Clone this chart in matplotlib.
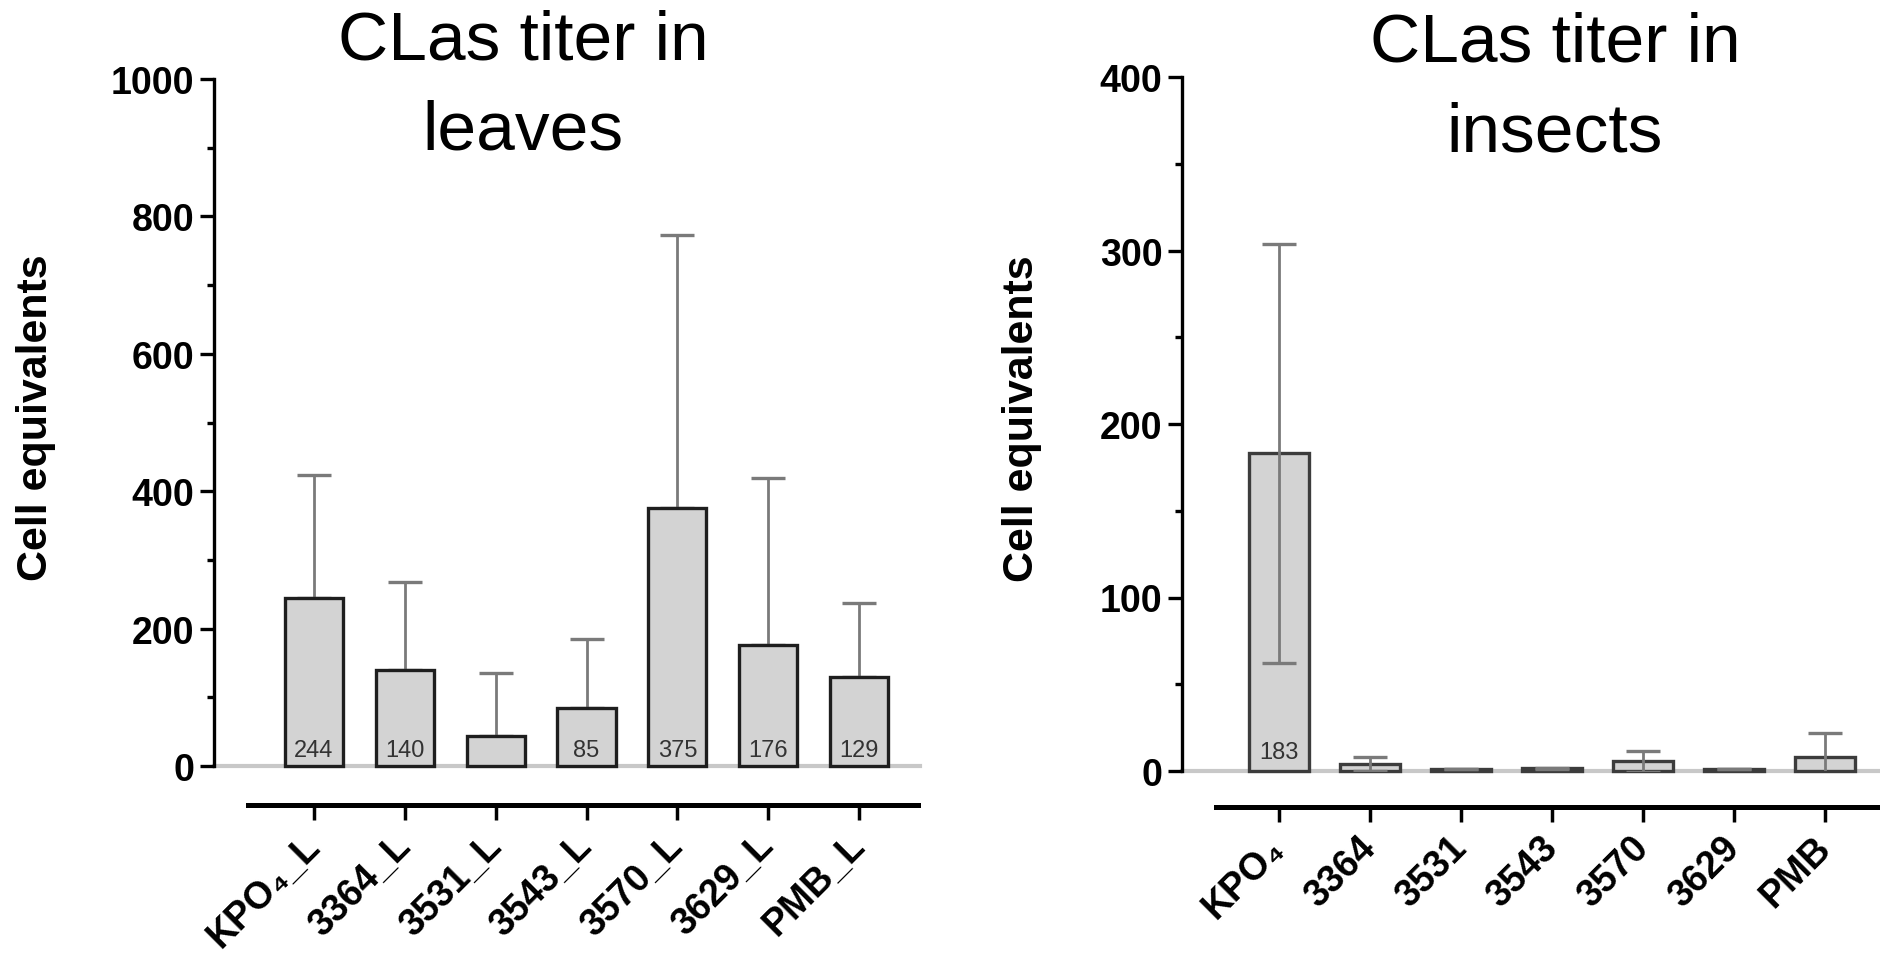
import matplotlib.pyplot as plt
import numpy as np

plt.rcParams['font.family'] = ['Liberation Sans', 'DejaVu Sans']

# CLas titer in leaves
leaves_labels = ['KPO₄_L', '3364_L', '3531_L', '3543_L', '3570_L', '3629_L', 'PMB_L']
leaves_mean = [244, 140, 43, 85, 375, 176, 129]
leaves_sd = [179, 128, 92, 100, 398, 243, 108]
leaves_text = ['244', '140', '', '85', '375', '176', '129']

# CLas titer in insects
insects_labels = ['KPO₄', '3364', '3531', '3543', '3570', '3629', 'PMB']
insects_mean = [183, 4, 1, 1.5, 5.5, 1, 8]
insects_sd = [121, 4, 0, 0.5, 6, 0, 14]
insects_text = ['183', '', '', '', '', '', '']

W, H = 1881, 962
fig = plt.figure(figsize=(W / 100, H / 100), dpi=100)


def panel(rect, labels, mean, sd, text, ymax, major, xlim, spine_lo, spine_hi,
          spine_out, barw, both_sides, edge, text_off):
    ax = fig.add_axes(rect)
    x = np.arange(len(labels))
    ax.axhline(0, color='#c8c8c8', lw=3, zorder=1, clip_on=False)
    ax.bar(x, mean, barw, color='#d3d3d3', edgecolor=edge, linewidth=2.4,
           zorder=3, clip_on=False)
    lower = sd if both_sides else [0] * len(sd)
    ax.errorbar(x, mean, yerr=[lower, sd], fmt='none', ecolor='#7a7a7a',
                elinewidth=2, capsize=12, capthick=2.4,
                zorder=4 if both_sides else 2)
    for xi, t in zip(x, text):
        if t:
            ax.annotate(t, (xi, 0), xytext=(0, text_off), textcoords='offset points',
                        ha='center', va='baseline', fontsize=17, color='#333333',
                        zorder=5)
    ax.set_xlim(*xlim)
    ax.set_ylim(0, ymax)
    ax.spines['top'].set_visible(False)
    ax.spines['right'].set_visible(False)
    ax.spines['left'].set_linewidth(2.4)
    ax.spines['bottom'].set_linewidth(3.6)
    ax.spines['bottom'].set_position(('outward', spine_out))
    ax.spines['bottom'].set_bounds(spine_lo, spine_hi)
    yt = np.arange(0, ymax + 1, major)
    ax.set_yticks(yt, [str(int(v)) for v in yt], fontsize=27, fontweight='bold')
    ax.set_yticks(np.arange(major / 2, ymax, major), minor=True)
    ax.tick_params(axis='y', which='major', length=10, width=2.4, pad=4)
    ax.tick_params(axis='y', which='minor', length=5, width=2.4)
    ax.set_xticks(x, labels, rotation=45, ha='right', va='center',
                  rotation_mode='anchor', fontsize=27, fontweight='bold')
    ax.tick_params(axis='x', length=11, width=2.5, pad=14)
    return ax


panel([214 / W, 195 / H, 706 / W, 687 / H], leaves_labels, leaves_mean, leaves_sd,
      leaves_text, 1000, 200, (-1.10, 6.67), -0.73, 6.65, 28, 0.64, False,
      '#1e1e1e', 7)
panel([1182 / W, 190 / H, 699 / W, 694 / H], insects_labels, insects_mean,
      insects_sd, insects_text, 400, 100, (-1.066, 6.615), -0.69, 6.615, 26, 0.66,
      True, '#3c3c3c', 9)

fig.text(523 / W, 1 - 60 / H, 'CLas titer in', ha='center', va='baseline', fontsize=50)
fig.text(523 / W, 1 - 150 / H, 'leaves', ha='center', va='baseline', fontsize=50)
fig.text(1555 / W, 1 - 62 / H, 'CLas titer in', ha='center', va='baseline', fontsize=50)
fig.text(1555 / W, 1 - 152 / H, 'insects', ha='center', va='baseline', fontsize=50)

fig.text(36 / W, 1 - 418 / H, 'Cell equivalents', rotation=90, ha='center',
         va='center', fontsize=31, fontweight='bold')
fig.text(1022 / W, 1 - 419 / H, 'Cell equivalents', rotation=90, ha='center',
         va='center', fontsize=31, fontweight='bold')

fig.savefig('out.png', dpi=100)
